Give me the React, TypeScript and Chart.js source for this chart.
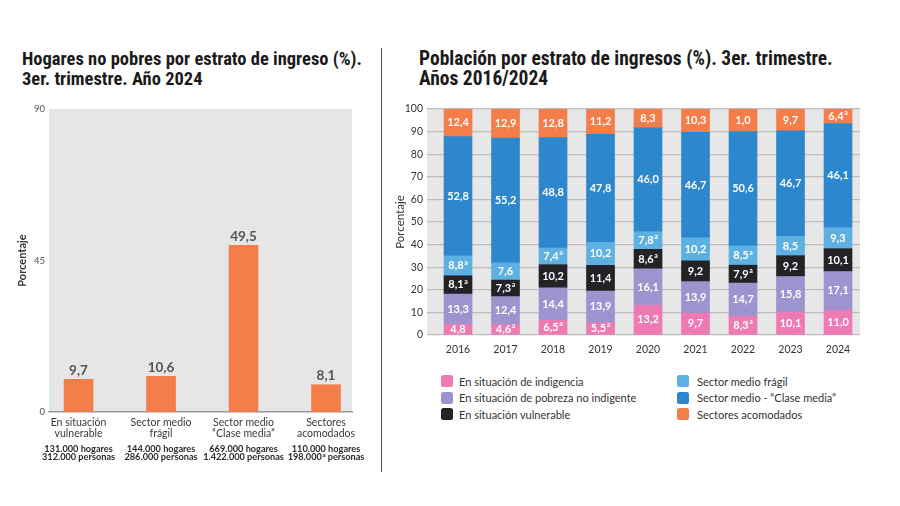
import React, { useEffect, useRef } from "react";
import { Chart, registerables } from "chart.js";

Chart.register(...registerables);

// ---------- Left chart data ----------
const hogaresCategorias = [
  ["En situación", "vulnerable"],
  ["Sector medio", "frágil"],
  ["Sector medio", "\u201CClase media\u201D"],
  ["Sectores", "acomodados"],
];
const hogaresPorcentaje = [9.7, 10.6, 49.5, 8.1];
const hogaresCantidad = ["131.000 hogares", "144.000 hogares", "669.000 hogares", "110.000 hogares"];
const personasCantidad = ["312.000 personas", "286.000 personas", "1.422.000 personas", "198.000ª personas"];
const hogaresTicks = [0, 45, 90];

// ---------- Right chart data ----------
const anios = ["2016", "2017", "2018", "2019", "2020", "2021", "2022", "2023", "2024"];
const indigencia = [4.8, 4.6, 6.5, 5.5, 13.2, 9.7, 8.3, 10.1, 11.0];
const pobrezaNoIndigente = [13.3, 12.4, 14.4, 13.9, 16.1, 13.9, 14.7, 15.8, 17.1];
const vulnerable = [8.1, 7.3, 10.2, 11.4, 8.6, 9.2, 7.9, 9.2, 10.1];
const medioFragil = [8.8, 7.6, 7.4, 10.2, 7.8, 10.2, 8.5, 8.5, 9.3];
const claseMedia = [52.8, 55.2, 48.8, 47.8, 46.0, 46.7, 50.6, 46.7, 46.1];
const acomodados = [12.4, 12.9, 12.8, 11.2, 8.3, 10.3, 10.0, 9.7, 6.4];
// printed label in the source for 2022 reads "1,0"
const acomodadosRotulos = ["12,4", "12,9", "12,8", "11,2", "8,3", "10,3", "1,0", "9,7", "6,4"];

// note "a" markers (1 = has note)
const notaIndigencia = [0, 1, 1, 1, 0, 0, 1, 0, 0];
const notaPobreza = [0, 0, 0, 0, 0, 0, 0, 0, 0];
const notaVulnerable = [1, 1, 0, 0, 1, 0, 1, 0, 0];
const notaFragil = [1, 0, 1, 0, 1, 0, 1, 0, 0];
const notaClaseMedia = [0, 0, 0, 0, 0, 0, 0, 0, 0];
const notaAcomodados = [0, 0, 0, 0, 0, 0, 0, 0, 1];

const serieNombres = [
  "En situación de indigencia",
  "En situación de pobreza no indigente",
  "En situación vulnerable",
  "Sector medio frágil",
  "Sector medio - \u201CClase media\u201D",
  "Sectores acomodados",
];
const serieColores = ["#ee7ab4", "#9d93cf", "#222227", "#5fb0e2", "#2d87cc", "#f47d4a"];

const FONT = "Lato, 'Open Sans', sans-serif";
const TITLE_FONT = "'Liberation Sans Narrow', 'Roboto Condensed', Roboto, sans-serif";

function fmt(v: number) {
  return v.toFixed(1).replace(".", ",");
}

// draws text where "ª" is rendered as a small raised "a", centered at x
function drawRich(ctx: CanvasRenderingContext2D, text: string, x: number, y: number, size: number, weight: string, color: string, align: "center" | "left" = "center") {
  const parts = text.split("ª");
  const main = `${weight} ${size}px ${FONT}`;
  const sup = `${weight} ${Math.round(size * 0.6)}px ${FONT}`;
  const pieces: { t: string; s: boolean }[] = [];
  parts.forEach((p, i) => {
    if (p) pieces.push({ t: p, s: false });
    if (i < parts.length - 1) pieces.push({ t: "a", s: true });
  });
  let total = 0;
  const widths = pieces.map((p) => {
    ctx.font = p.s ? sup : main;
    const w = ctx.measureText(p.t).width + (p.s ? 0.6 : 0);
    total += w;
    return w;
  });
  let cx = align === "center" ? x - total / 2 : x;
  ctx.fillStyle = color;
  ctx.textAlign = "left";
  ctx.textBaseline = "middle";
  pieces.forEach((p, i) => {
    ctx.font = p.s ? sup : main;
    ctx.fillText(p.t, cx + (p.s ? 0.6 : 0), p.s ? y - size * 0.3 : y);
    cx += widths[i];
  });
}

const bgPlugin = (color: string) => ({
  id: "bg",
  beforeDraw(chart: any) {
    const { ctx, chartArea: a } = chart;
    ctx.save();
    ctx.fillStyle = color;
    ctx.fillRect(a.left, a.top, a.right - a.left, a.bottom - a.top);
    ctx.restore();
  },
});

const leftLabels = {
  id: "leftLabels",
  afterDraw(chart: any) {
    const { ctx, chartArea: a } = chart;
    const meta = chart.getDatasetMeta(0);
    ctx.save();
    meta.data.forEach((el: any, i: number) => {
      ctx.font = `bold 13.5px ${FONT}`;
      ctx.fillStyle = "#555";
      ctx.textAlign = "center";
      ctx.textBaseline = "bottom";
      ctx.fillText(fmt(hogaresPorcentaje[i]), el.x, el.y - 2);
    });
    const xs = chart.scales.x;
    hogaresCategorias.forEach((lines, i) => {
      const x = xs.getPixelForValue(i);
      ctx.font = `10.5px ${FONT}`;
      ctx.fillStyle = "#3a3a3a";
      ctx.textAlign = "center";
      ctx.textBaseline = "middle";
      ctx.fillText(lines[0], x, a.bottom + 11);
      ctx.fillText(lines[1], x, a.bottom + 21.5);
      drawRich(ctx, hogaresCantidad[i], x, a.bottom + 37, 9.2, "bold", "#2a2a2a");
      drawRich(ctx, personasCantidad[i], x, a.bottom + 45.5, 9.2, "bold", "#2a2a2a");
    });
    ctx.restore();
  },
};

const notas = [notaIndigencia, notaPobreza, notaVulnerable, notaFragil, notaClaseMedia, notaAcomodados];
const series = [indigencia, pobrezaNoIndigente, vulnerable, medioFragil, claseMedia, acomodados];

const rightLabels = {
  id: "rightLabels",
  afterDatasetsDraw(chart: any) {
    const { ctx, chartArea: a } = chart;
    ctx.save();
    series.forEach((vals, s) => {
      const meta = chart.getDatasetMeta(s);
      meta.data.forEach((el: any, i: number) => {
        const top = Math.max(Math.min(el.y, el.base), a.top);
        const bottom = Math.max(el.y, el.base);
        const y = (top + bottom) / 2;
        const base = s === 5 ? acomodadosRotulos[i] : fmt(vals[i]);
        const txt = base + (notas[s][i] ? "ª" : "");
        drawRich(ctx, txt, el.x, y, 11, "bold", "#ffffff");
      });
    });
    ctx.restore();
  },
};

function LeftChart() {
  const ref = useRef<HTMLCanvasElement>(null);
  useEffect(() => {
    const chart = new Chart(ref.current!, {
      type: "bar",
      data: {
        datasets: [
          {
            data: hogaresPorcentaje.map((v, i) => ({ x: i, y: v })),
            backgroundColor: "#f47d4a",
            barThickness: 29,
          },
        ],
      },
      options: {
        animation: false,
        responsive: false,
        layout: { padding: { top: 14, right: 28, left: 0, bottom: 0 } },
        plugins: { legend: { display: false }, tooltip: { enabled: false } },
        scales: {
          x: {
            type: "linear",
            offset: false,
            min: -0.358,
            max: 3.315,
            ticks: { display: false },
            grid: { display: false, drawTicks: false, offset: false },
            border: { display: true, color: "#9a9a9a", width: 1.5 },
            afterFit: (s: any) => {
              s.height = 63;
            },
          },
          y: {
            min: 0,
            max: 90,
            afterBuildTicks: (s: any) => {
              s.ticks = hogaresTicks.map((v) => ({ value: v }));
            },
            ticks: { font: { size: 9.5, family: FONT }, color: "#555", padding: 4 },
            grid: { display: false, drawTicks: false },
            border: { display: false },
            title: {
              display: true,
              text: "Porcentaje",
              font: { size: 11, weight: "bold", family: FONT },
              color: "#333",
              padding: { top: 16, bottom: 0 },
            },
            afterFit: (s: any) => {
              s.width = 49;
            },
          },
        },
      },
      plugins: [bgPlugin("#e6e6e6"), leftLabels],
    } as any);
    return () => chart.destroy();
  }, []);
  return <canvas ref={ref} width={380} height={380} style={{ position: "absolute", left: 0, top: 95 }} />;
}

function RightChart() {
  const ref = useRef<HTMLCanvasElement>(null);
  useEffect(() => {
    const chart = new Chart(ref.current!, {
      type: "bar",
      data: {
        datasets: series.map((vals, s) => ({
          label: serieNombres[s],
          data: vals.map((v, i) => ({ x: i, y: v })),
          backgroundColor: serieColores[s],
          barThickness: 28,
        })),
      },
      options: {
        animation: false,
        responsive: false,
        layout: { padding: { top: 14, right: 40, left: 0, bottom: 0 } },
        plugins: { legend: { display: false }, tooltip: { enabled: false } },
        scales: {
          x: {
            type: "linear",
            stacked: true,
            offset: false,
            min: -0.653,
            max: 8.463,
            afterBuildTicks: (s: any) => {
              s.ticks = anios.map((_, i) => ({ value: i }));
            },
            ticks: {
              callback: (v: any) => anios[v],
              font: { size: 10.5, family: FONT },
              color: "#333",
              padding: 8,
              maxRotation: 0,
              autoSkip: false,
            },
            grid: { display: false, drawTicks: false, offset: false },
            border: { display: false },
            afterFit: (s: any) => {
              s.height = 32;
            },
          },
          y: {
            stacked: true,
            min: 0,
            max: 100,
            ticks: { stepSize: 10, font: { size: 10.5, family: FONT }, color: "#333", padding: 4 },
            grid: { color: "#bdbdbd", lineWidth: 1.2, drawTicks: false },
            border: { display: false },
            title: {
              display: true,
              text: "Porcentaje",
              font: { size: 11.5, family: FONT },
              color: "#333",
              padding: { top: 11, bottom: 0 },
            },
            afterFit: (s: any) => {
              s.width = 45;
            },
          },
        },
      },
      plugins: [bgPlugin("#e7e7e7"), rightLabels],
    } as any);
    return () => chart.destroy();
  }, []);
  return <canvas ref={ref} width={518} height={272} style={{ position: "absolute", left: 382, top: 95 }} />;
}

function Legend() {
  const cols = [
    { left: 441, items: [0, 1, 2] },
    { left: 677, items: [3, 4, 5] },
  ];
  return (
    <>
      {cols.map((c, ci) =>
        c.items.map((idx, r) => (
          <div
            key={`${ci}-${r}`}
            style={{
              position: "absolute",
              left: c.left,
              top: 374 + r * 16.5,
              height: 14,
              display: "flex",
              alignItems: "center",
              fontFamily: FONT,
              fontSize: 11,
              color: "#333",
              whiteSpace: "nowrap",
            }}
          >
            <span
              style={{
                display: "inline-block",
                width: 12,
                height: 12,
                borderRadius: 2.5,
                background: serieColores[idx],
                marginRight: ci === 0 ? 6 : 8,
              }}
            />
            <span>{serieNombres[idx]}</span>
          </div>
        ))
      )}
    </>
  );
}

export default function App() {
  const titleStyle: React.CSSProperties = {
    position: "absolute",
    fontFamily: TITLE_FONT,
    fontWeight: "bold",
    lineHeight: "20px",
    color: "#1a1a1a",
    whiteSpace: "nowrap",
  };
  return (
    <div style={{ position: "absolute", left: 0, top: 0, width: 900, height: 506, background: "#fff", overflow: "hidden" }}>
      <div style={{ ...titleStyle, fontSize: 18.5, left: 22, top: 49 }}>
        Hogares no pobres por estrato de ingreso (%).
        <br />
        3er. trimestre. Año 2024
      </div>
      <div style={{ ...titleStyle, fontSize: 19.5, left: 419, top: 49 }}>
        Población por estrato de ingresos (%). 3er. trimestre.
        <br />
        Años 2016/2024
      </div>
      <div style={{ position: "absolute", left: 381, top: 48, width: 1, height: 424, background: "#555" }} />
      <LeftChart />
      <RightChart />
      <Legend />
    </div>
  );
}
